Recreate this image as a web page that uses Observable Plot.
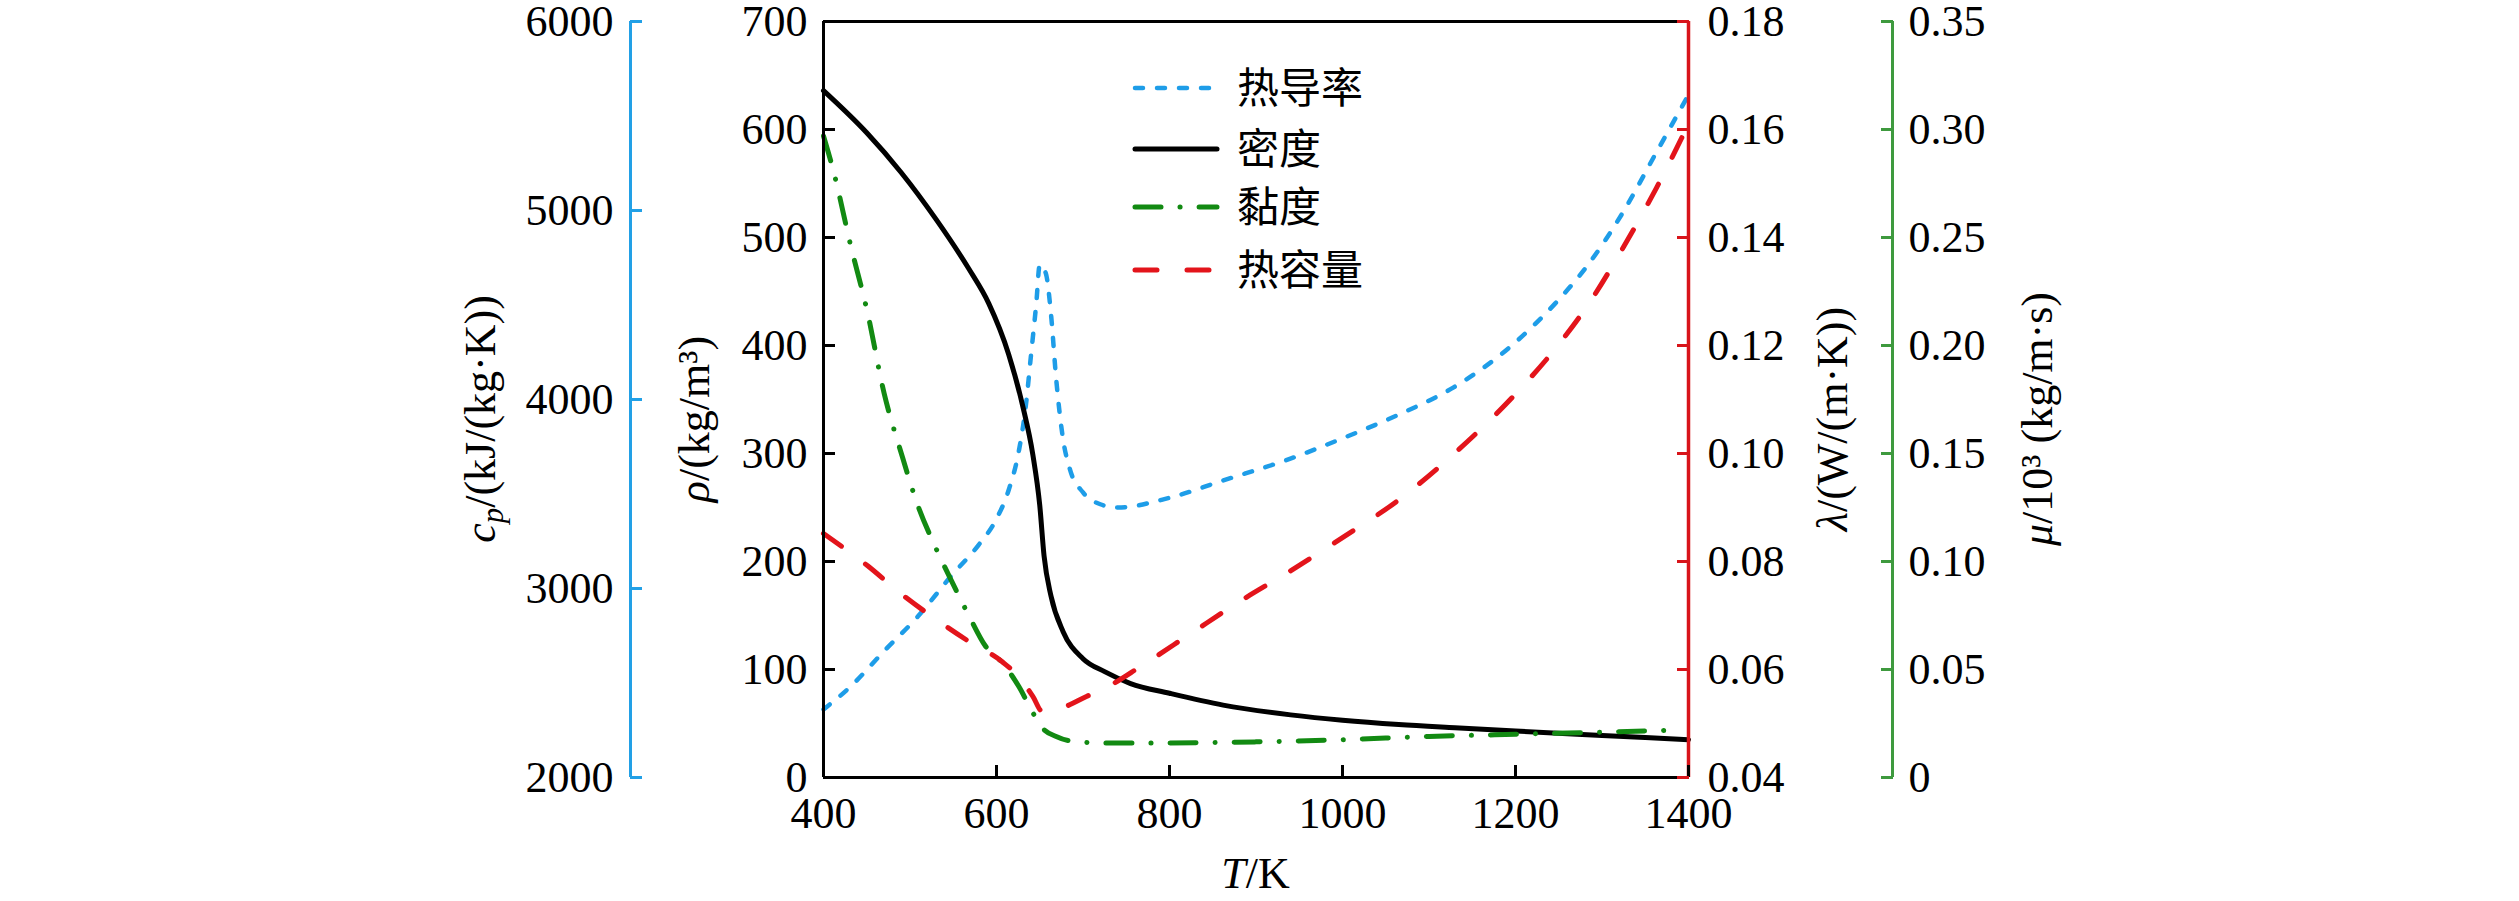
<!DOCTYPE html>
<html><head><meta charset="utf-8">
<script src="https://cdn.jsdelivr.net/npm/d3@7"></script>
<script src="https://cdn.jsdelivr.net/npm/@observablehq/plot@0.6"></script>
<style>body{margin:0;background:#fff} svg{display:block}</style>
</head><body><div id="chart"></div>
<script>
// ---- data ----
const densityT = [400,450,490,530,568,591,614,630,642,650,655,663,677,700,725,755,800,862,940,1000,1065,1130,1200,1300,1400];
const densityV = [636,597,560,517,471,439,392,345,299,252,205,168,135,110,98,87,78,67,58,53,49,46,43,39,35];

const viscT = [400,412,431,451,470,490,509,529,548,568,587,607,626,642,653,669,685,724,800,900,1000,1100,1200,1300,1388];
const viscV = [0.297,0.280,0.247,0.215,0.178,0.150,0.126,0.107,0.091,0.075,0.061,0.053,0.042,0.030,0.023,0.019,0.017,0.016,0.016,0.0165,0.0175,0.019,0.020,0.021,0.022];

const condT = [400,431,470,509,548,579,599,614,626,634,640,646,650,657,663,669,677,685,700,720,740,800,862,939,1000,1065,1128,1200,1246,1285,1324,1363,1400];
const condV = [0.0526,0.0568,0.0634,0.0698,0.0774,0.0830,0.0876,0.0932,0.1006,0.1090,0.1184,0.1278,0.1350,0.1334,0.1258,0.1138,0.1026,0.0970,0.0928,0.0906,0.0900,0.0918,0.0950,0.0990,0.1028,0.1072,0.1122,0.1206,0.1278,0.1352,0.1446,0.1558,0.1664];

const heatT = [400,451,490,529,568,607,626,642,653,677,704,724,767,824,881,939,1000,1065,1128,1200,1246,1285,1324,1363,1400];
const heatV = [3291,3120,2971,2840,2720,2611,2531,2429,2349,2371,2429,2469,2589,2760,2931,3091,3269,3469,3709,4029,4269,4509,4800,5120,5457];

const xTicks = [400,600,800,1000,1200,1400];
const rhoTicks = [0,100,200,300,400,500,600,700];
const cpTicks = [2000,3000,4000,5000,6000];
const lamTicks = [0.04,0.06,0.08,0.10,0.12,0.14,0.16,0.18];
const muTicks = [0,0.05,0.10,0.15,0.20,0.25,0.30,0.35];

const legendLabels = ["热导率","密度","黏度","热容量"];

// ---- styles ----
const BLUE = "#1e9de8", RED = "#e3141b", GREEN = "#128a12";
const AX_BLUE = "#22a0e6", AX_RED = "#d8141a", AX_GREEN = "#3e9a3e";
const FONT = "Liberation Serif, Times New Roman, serif";
const CJK = "Noto Sans CJK SC, sans-serif";

// all series share the ρ scale (0–700); other quantities are mapped linearly onto it
const rhoMax = 700;
const cpToY = v => (v - 2000) * rhoMax / 4000;
const yToCp = y => 2000 + y * 4000 / rhoMax;
const lamToY = v => (v - 0.04) * rhoMax / 0.14;
const yToLam = y => 0.04 + y * 0.14 / rhoMax;
const muToY = v => v * rhoMax / 0.35;
const yToMu = y => y * 0.35 / rhoMax;

const density = densityT.map((t, i) => ({T: t, y: densityV[i]}));
const visc = viscT.map((t, i) => ({T: t, y: muToY(viscV[i])}));
const cond = condT.map((t, i) => ({T: t, y: lamToY(condV[i])}));
const heat = heatT.map((t, i) => ({T: t, y: cpToY(heatV[i])}));

const styles = [
  {stroke: BLUE, strokeWidth: 4.5, strokeDasharray: "8,14", strokeLinecap: "round"},
  {stroke: "black", strokeWidth: 5, strokeDasharray: null, strokeLinecap: "round"},
  {stroke: GREEN, strokeWidth: 5, strokeDasharray: "26,19,0.1,19", strokeLinecap: "round"},
  {stroke: RED, strokeWidth: 5, strokeDasharray: "22,30", strokeLinecap: "round"}
];

const TS = 12; // inward tick length
const fs = 44;

const plot = Plot.plot({
  width: 2519,
  height: 901,
  marginLeft: 823,
  marginRight: 831,
  marginTop: 21,
  marginBottom: 124,
  style: {fontFamily: FONT, fontSize: fs + "px", background: "white", color: "black", overflow: "visible"},
  x: {domain: [400, 1400]},
  y: {domain: [0, rhoMax]},
  marks: [
    Plot.line(cond, {x: "T", y: "y", curve: "monotone-x", ...styles[0]}),
    Plot.line(density, {x: "T", y: "y", curve: "monotone-x", ...styles[1]}),
    Plot.line(visc, {x: "T", y: "y", curve: "monotone-x", ...styles[2]}),
    Plot.line(heat, {x: "T", y: "y", curve: "monotone-x", ...styles[3]}),
    // frame / axis lines
    Plot.ruleY([0], {stroke: "black", strokeWidth: 3}),
    Plot.ruleY([rhoMax], {stroke: "black", strokeWidth: 3}),
    Plot.ruleX([400], {stroke: "black", strokeWidth: 3}),
    Plot.ruleX([1400], {stroke: AX_RED, strokeWidth: 3.5}),
    Plot.ruleX([400], {dx: -193, stroke: AX_BLUE, strokeWidth: 3}),
    Plot.ruleX([1400], {dx: 204, stroke: AX_GREEN, strokeWidth: 3}),
    // axes
    Plot.axisX(xTicks, {anchor: "bottom", tickSize: -TS, tickPadding: 31, strokeWidth: 3, fontSize: fs, label: null, tickFormat: d => String(d)}),
    Plot.axisY(rhoTicks, {anchor: "left", tickSize: -TS, tickPadding: 28, strokeWidth: 3, fontSize: fs, label: null, tickFormat: d => String(d)}),
    Plot.axisY(cpTicks.map(cpToY), {anchor: "left", dx: -193, tickSize: -TS, tickPadding: 29, strokeWidth: 3, stroke: AX_BLUE, fill: "black", fontSize: fs, label: null, tickFormat: d => String(Math.round(yToCp(d)))}),
    Plot.axisY(lamTicks.map(lamToY), {anchor: "right", tickSize: -TS, tickPadding: 31, strokeWidth: 3, stroke: AX_RED, fill: "black", fontSize: fs, label: null, tickFormat: d => yToLam(d).toFixed(2)}),
    Plot.axisY(muTicks.map(muToY), {anchor: "right", dx: 204, tickSize: -TS, tickPadding: 28, strokeWidth: 3, stroke: AX_GREEN, fill: "black", fontSize: fs, label: null, tickFormat: d => { const v = yToMu(d); return v < 1e-9 ? "0" : v.toFixed(2); }})
  ]
});

document.getElementById("chart").appendChild(plot);

// ---- axis titles and legend, positioned from the scales ----
const xs = plot.scale("x"), ys = plot.scale("y");
const svg = d3.select(plot);
const x0 = xs.apply(400), x1 = xs.apply(1400);
const yMid = (ys.apply(0) + ys.apply(rhoMax)) / 2 + 20;

function vlabel(cx, parts) {
  const t = svg.append("text")
    .attr("transform", `translate(${cx},${yMid}) rotate(-90)`)
    .attr("text-anchor", "middle")
    .attr("dy", "0.35em")
    .attr("font-family", FONT)
    .attr("font-size", fs)
    .attr("fill", "black");
  parts.forEach(p => {
    const s = t.append("tspan").text(p.t);
    if (p.i) s.attr("font-style", "italic");
    if (p.sub) s.attr("font-size", fs * 0.7).attr("dy", "0.25em");
    if (p.after) s.attr("dy", "-0.18em");
  });
}
vlabel(x0 - 343, [{t: "c", i: true}, {t: "p", i: true, sub: true}, {t: "/(kJ/(kg·K))", after: true}]);
vlabel(x0 - 129, [{t: "ρ", i: true}, {t: "/(kg/m³)"}]);
vlabel(x1 + 144, [{t: "λ", i: true}, {t: "/(W/(m·K))"}]);
vlabel(x1 + 349, [{t: "μ", i: true}, {t: "/10³ (kg/m·s)"}]);

const tl = svg.append("text")
  .attr("x", (x0 + x1) / 2).attr("y", ys.apply(0) + 111)
  .attr("text-anchor", "middle")
  .attr("font-family", FONT).attr("font-size", fs).attr("fill", "black");
tl.append("tspan").attr("font-style", "italic").text("T");
tl.append("tspan").text("/K");

const plotTop = ys.apply(rhoMax);
const rowY = [67, 128, 186, 249];
const leg = svg.append("g");
legendLabels.forEach((lab, i) => {
  const st = styles[i];
  const y = plotTop + rowY[i];
  leg.append("line")
    .attr("x1", x0 + 312).attr("x2", x0 + 394)
    .attr("y1", y).attr("y2", y)
    .attr("stroke", st.stroke).attr("stroke-width", st.strokeWidth)
    .attr("stroke-linecap", st.strokeLinecap)
    .attr("stroke-dasharray", st.strokeDasharray);
  leg.append("text")
    .attr("x", x0 + 414).attr("y", y)
    .attr("dy", "0.36em")
    .attr("text-anchor", "start")
    .attr("font-family", CJK).attr("font-size", 42).attr("fill", "black")
    .text(lab);
});
</script>
</body></html>
